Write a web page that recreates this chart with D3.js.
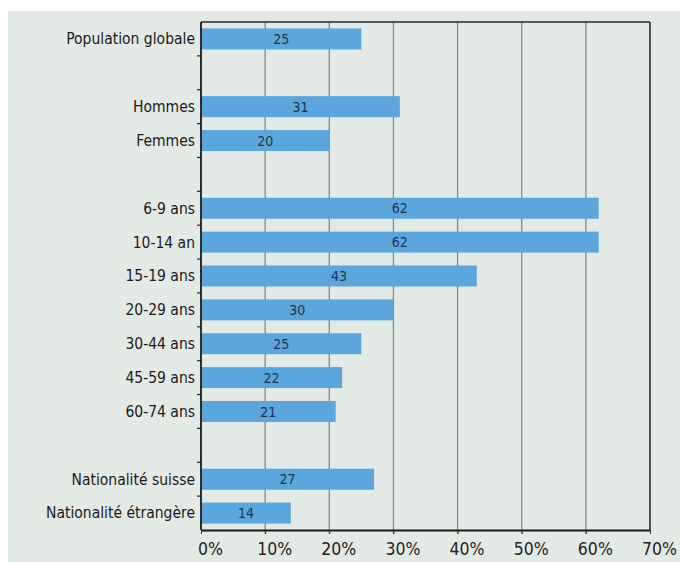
<!DOCTYPE html>
<html>
<head>
<meta charset="utf-8">
<script src="https://cdn.jsdelivr.net/npm/d3@7"></script>
<style>
  html, body { margin: 0; padding: 0; background: #ffffff; }
  svg { display: block; }
  text { font-family: "Liberation Sans Narrow", "Arial Narrow", "DejaVu Sans Condensed", sans-serif; }
</style>
</head>
<body>
<svg id="chart" width="680" height="562"></svg>
<script>
// Row labels; null marks an empty spacer row between groups
const categories = [
  "Population globale", null,
  "Hommes", "Femmes", null,
  "6-9 ans", "10-14 an", "15-19 ans", "20-29 ans", "30-44 ans", "45-59 ans", "60-74 ans", null,
  "Nationalité suisse", "Nationalité étrangère"
];
// Share in percent for each row (null for spacers)
const values = [
  25, null,
  31, 20, null,
  62, 62, 43, 30, 25, 22, 21, null,
  27, 14
];
const xTicks = [0, 10, 20, 30, 40, 50, 60, 70];
const xTickLabels = ["0%", "10%", "20%", "30%", "40%", "50%", "60%", "70%"];

const svg = d3.select("#chart");
const W = 680, H = 562;
const plot = { left: 201, right: 650, top: 22, bottom: 530 };

// Panel background
svg.append("rect")
  .attr("x", 8).attr("y", 11)
  .attr("width", W - 8).attr("height", H - 11)
  .attr("fill", "#e3e9e5");

const x = d3.scaleLinear().domain([0, 70]).range([plot.left, plot.right]);
const idx = categories.map((_, i) => i);
const y = d3.scaleBand().domain(idx).range([plot.top, plot.bottom])
  .paddingInner(0.4).paddingOuter(0.2);
const step = y.step();
const slotTop = i => plot.top + i * step;

// Vertical gridlines
svg.append("g")
  .selectAll("line")
  .data(xTicks.filter(t => t > 0 && t < 70))
  .join("line")
  .attr("x1", d => x(d)).attr("x2", d => x(d))
  .attr("y1", plot.top).attr("y2", plot.bottom + 4)
  .attr("stroke", "#858985").attr("stroke-width", 1.3);

// Bars
const rows = idx.filter(i => values[i] != null);
svg.append("g")
  .selectAll("rect")
  .data(rows)
  .join("rect")
  .attr("x", x(0))
  .attr("y", i => slotTop(i) + (step - 21) / 2)
  .attr("width", i => x(values[i]) - x(0))
  .attr("height", 21)
  .attr("fill", "#5ba6dc");

// Value labels inside the bars
svg.append("g")
  .selectAll("text")
  .data(rows)
  .join("text")
  .attr("x", i => (x(0) + x(values[i])) / 2)
  .attr("y", i => slotTop(i) + step / 2)
  .attr("dy", "0.36em")
  .attr("text-anchor", "middle")
  .attr("font-size", 14)
  .attr("fill", "#1b3450")
  .text(i => values[i]);

// Category labels
svg.append("g")
  .selectAll("text")
  .data(rows)
  .join("text")
  .attr("x", plot.left - 6)
  .attr("y", i => slotTop(i) + step / 2)
  .attr("dy", "0.35em")
  .attr("text-anchor", "end")
  .attr("font-size", 15.5)
  .attr("fill", "#1a1a1a")
  .text(i => categories[i]);

// Small ticks on the category axis at each row boundary
svg.append("g")
  .selectAll("line")
  .data(d3.range(1, categories.length))
  .join("line")
  .attr("x1", plot.left - 4).attr("x2", plot.left)
  .attr("y1", i => slotTop(i)).attr("y2", i => slotTop(i))
  .attr("stroke", "#222").attr("stroke-width", 1.2);

// Frame: top and right borders
svg.append("line")
  .attr("x1", plot.left).attr("x2", plot.right)
  .attr("y1", plot.top).attr("y2", plot.top)
  .attr("stroke", "#2a2a2a").attr("stroke-width", 1.6);
svg.append("line")
  .attr("x1", plot.right).attr("x2", plot.right)
  .attr("y1", plot.top).attr("y2", plot.bottom)
  .attr("stroke", "#2a2a2a").attr("stroke-width", 1.6);

// Left axis line
svg.append("line")
  .attr("x1", plot.left).attr("x2", plot.left)
  .attr("y1", plot.top).attr("y2", plot.bottom)
  .attr("stroke", "#1a1a1a").attr("stroke-width", 1.8);

// Bottom axis
const xAxis = d3.axisBottom(x)
  .tickValues(xTicks)
  .tickSizeInner(4).tickSizeOuter(0)
  .tickPadding(9)
  .tickFormat((d, i) => xTickLabels[i]);
const gx = svg.append("g")
  .attr("transform", `translate(0,${plot.bottom})`)
  .call(xAxis);
gx.select(".domain").attr("stroke", "#1a1a1a").attr("stroke-width", 1.8);
gx.selectAll(".tick line").attr("stroke", "#333");
gx.selectAll(".tick text")
  .attr("font-size", 17.5)
  .attr("fill", "#222")
  .attr("dx", 9)
  .style("font-family", "\"Liberation Sans Narrow\", \"Arial Narrow\", \"DejaVu Sans Condensed\", sans-serif");
</script>
</body>
</html>
